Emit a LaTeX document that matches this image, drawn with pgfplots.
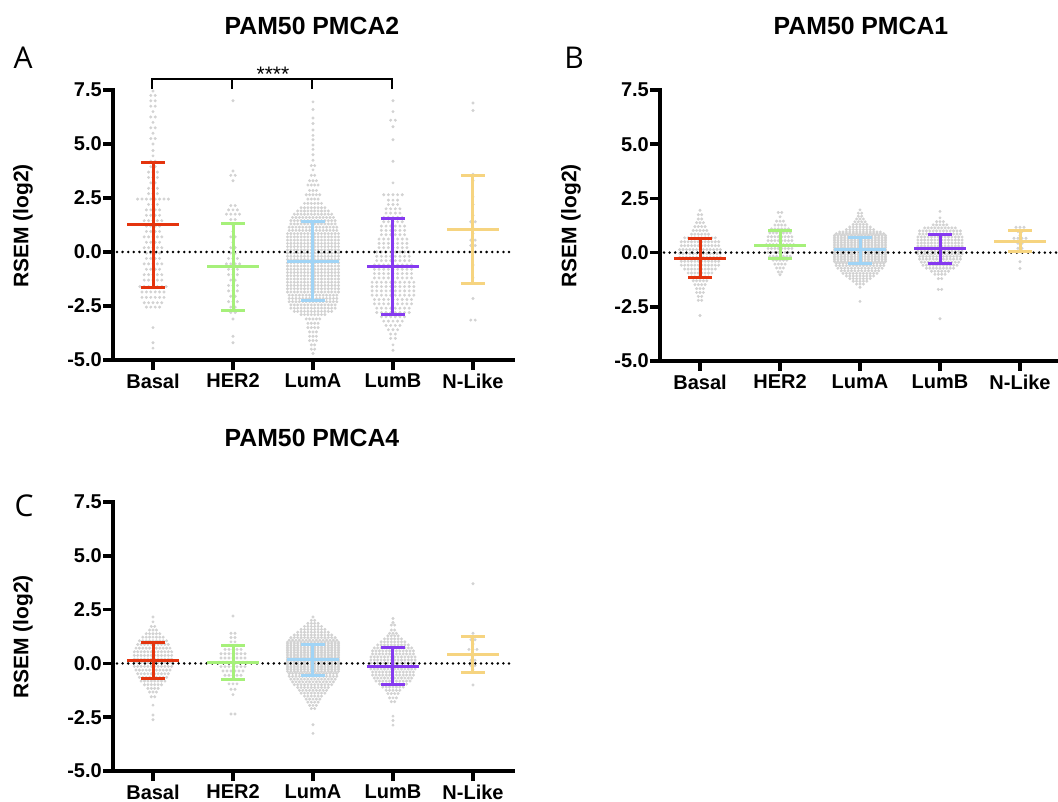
\documentclass[border=0pt]{standalone}
\usepackage{pgfplots}
\pgfplotsset{compat=1.18}
\usepackage{fontspec}
\setmainfont{Liberation Sans}
\newfontfamily\letterfont{Open Sans}
\definecolor{cBasal}{RGB}{228,52,14}
\definecolor{cHER}{RGB}{166,240,122}
\definecolor{cLumA}{RGB}{160,212,246}
\definecolor{cLumB}{RGB}{134,58,240}
\definecolor{cNL}{RGB}{246,212,128}
\definecolor{dotgrey}{RGB}{210,210,210}

\pgfplotsset{
  swarmdot/.style={only marks, mark=*, mark size=1.3pt, color=dotgrey},
  panel/.style={
    scale only axis, width=400pt, height=270pt,
    xmin=-0.5, xmax=4.5, ymin=-5, ymax=7.5,
    axis x line*=bottom, axis y line*=left,
    axis line style={-, line width=3.5pt, line cap=rect},
    xtick={0,1,2,3,4}, xticklabels={Basal,HER2,LumA,LumB,N-Like},
    ytick={-5,-2.5,0,2.5,5,7.5}, yticklabels={-5.0,-2.5,0.0,2.5,5.0,7.5},
    tick align=outside, major tick length=10pt,
    every tick/.style={black, line width=3.5pt},
    tick label style={font=\fontsize{20}{20}\selectfont\bfseries},
    yticklabel style={inner xsep=1pt},
    clip=false, clip marker paths=true,
  }
}

% beeswarm rows: y/n  (n dots placed side by side at value y)
\newcommand\swarm[3][0.0425]{%
  \gdef\swarmlist{}%
  \foreach \yy/\nn in {#3}{%
    \foreach \ii in {1,...,\nn}{%
      \pgfmathsetmacro\xx{#2+(\ii-(\nn+1)/2)*#1}%
      \xdef\swarmlist{\swarmlist(\xx,\yy)}%
    }%
  }%
  \edef\tmp{\noexpand\addplot[swarmdot] coordinates {\swarmlist};}%
  \tmp
}
% mean and SD: x, mean, low, high, colour
\newcommand\ebar[5]{%
  \pgfmathsetmacro\xa{#1-0.32}\pgfmathsetmacro\xb{#1+0.32}%
  \pgfmathsetmacro\xc{#1-0.15}\pgfmathsetmacro\xd{#1+0.15}%
  \edef\tmp{%
    \noexpand\addplot[#5,line width=3pt,mark=none] coordinates {(#1,#3) (#1,#4)};
    \noexpand\addplot[#5,line width=3pt,mark=none] coordinates {(\xa,#2) (\xb,#2)};
    \noexpand\addplot[#5,line width=3pt,mark=none] coordinates {(\xc,#3) (\xd,#3)};
    \noexpand\addplot[#5,line width=3pt,mark=none] coordinates {(\xc,#4) (\xd,#4)};
  }%
  \tmp
}
\newcommand\zeroline{\addplot[black, mark=none, line width=2.8pt, line cap=round, dash pattern=on 0pt off 5.6pt] coordinates {(-0.45,0) (4.5,0)};}

\begin{document}
\begin{tikzpicture}[x=1pt,y=1pt]
\useasboundingbox (0,0) rectangle (1058,-802);

% ---------------- Panel A ----------------
\begin{axis}[panel, at={(113pt,-360pt)}, anchor=south west]
\swarm[0.055]{0}{7.45/1,7.25/2,7.0/2,6.75/2,6.5/1,6.25/2,6.0/1,5.75/2,5.5/1,5.25/2,5.0/1,4.7/1,4.45/1,4.2/2,3.95/2,3.7/3,3.45/3,3.2/2,2.95/3,2.7/3,2.45/8,2.2/3,1.95/4,1.7/4,1.45/5,1.2/4,0.95/4,0.7/5,0.45/4,0.2/5,-0.05/4,-0.3/4,-0.55/5,-0.8/4,-1.05/5,-1.3/5,-1.6/7,-1.85/6,-2.1/6,-2.35/5,-2.55/4,-3.5/1,-4.2/1,-4.45/1}
\swarm[0.055]{1}{7.0/1,3.75/1,3.55/2,3.3/1,2.15/2,1.95/3,1.75/4,1.5/2,1.25/1,0.95/1,0.7/2,0.45/1,0.2/2,-0.05/2,-0.3/3,-0.55/4,-0.8/3,-1.05/3,-1.3/2,-1.55/3,-1.8/3,-2.05/2,-2.3/3,-2.55/2,-2.8/2,-3.1/1,-3.9/1,-4.2/1}
\swarm{2}{6.95/1,6.6/1,6.2/1,5.95/1,5.65/1,5.4/1,5.2/1,4.95/1,4.75/1,4.5/1,4.25/1,4.0/2,3.8/1,3.55/2,3.3/3,3.1/4,2.85/3,2.65/5,2.45/4,2.25/6,2.05/8,1.9/10,1.75/12,1.6/13,1.45/14,1.3/14,1.15/15,1.0/15,0.85/16,0.7/16,0.55/16,0.4/16,0.25/16,0.1/16,-0.05/16,-0.2/16,-0.35/16,-0.5/16,-0.65/16,-0.8/16,-0.95/16,-1.1/16,-1.25/16,-1.4/16,-1.55/16,-1.7/16,-1.85/16,-2.0/15,-2.15/15,-2.3/15,-2.45/14,-2.6/14,-2.75/12,-2.9/8,-3.1/5,-3.3/4,-3.5/4,-3.7/3,-3.9/3,-4.1/3,-4.3/2,-4.5/2,-4.7/1}
\swarm[0.058]{3}{7.0/1,6.5/1,6.1/2,5.8/1,5.2/1,4.2/1,3.2/1,2.65/5,2.4/3,2.2/3,2.0/4,1.8/4,1.6/5,1.4/5,1.2/6,1.0/6,0.8/6,0.6/7,0.4/7,0.2/7,0.0/8,-0.2/8,-0.4/8,-0.6/9,-0.8/9,-1.0/9,-1.2/9,-1.4/10,-1.6/10,-1.8/10,-2.0/10,-2.2/9,-2.4/9,-2.6/8,-2.8/8,-3.0/6,-3.2/5,-3.4/4,-3.6/3,-3.8/2,-4.0/2,-4.3/1,-4.55/1}
\swarm[0.055]{4}{6.9/1,6.55/1,3.6/1,3.3/1,2.55/1,2.2/1,1.7/1,1.4/2,1.1/1,0.85/1,0.55/2,0.3/2,0.0/1,-0.6/1,-1.2/1,-2.15/1,-3.15/2}
\zeroline
\ebar{0}{1.25}{-1.65}{4.15}{cBasal}
\ebar{1}{-0.68}{-2.7}{1.34}{cHER}
\ebar{2}{-0.42}{-2.24}{1.4}{cLumA}
\ebar{3}{-0.65}{-2.88}{1.56}{cLumB}
\ebar{4}{1.02}{-1.48}{3.52}{cNL}
\end{axis}

% ---------------- Panel B ----------------
\begin{axis}[panel, at={(660pt,-361pt)}, anchor=south west, height=271pt]
\swarm{0}{1.95/1,1.75/2,1.55/2,1.38/3,1.2/4,1.02/5,0.85/6,0.68/10,0.5/12,0.32/12,0.14/13,-0.04/13,-0.22/13,-0.4/12,-0.58/12,-0.76/10,-0.94/8,-1.12/6,-1.3/5,-1.48/4,-1.66/3,-1.84/3,-2.02/2,-2.2/2,-2.9/1}
\swarm{1}{1.85/2,1.65/1,1.45/3,1.27/4,1.09/6,0.91/7,0.73/8,0.55/8,0.37/9,0.19/8,0.01/8,-0.17/7,-0.35/5,-0.53/4,-0.71/3,-0.89/2,-1.02/1}
\swarm{2}{1.97/1,1.82/2,1.68/2,1.55/3,1.42/4,1.3/5,1.18/7,1.06/9,0.95/13,0.87/15,0.79/16,0.71/16,0.63/16,0.55/16,0.47/16,0.39/16,0.31/16,0.23/16,0.15/16,0.07/16,-0.01/16,-0.09/16,-0.17/16,-0.25/16,-0.33/16,-0.41/16,-0.49/15,-0.6/15,-0.72/14,-0.84/12,-0.96/11,-1.08/9,-1.2/7,-1.32/5,-1.45/3,-1.6/1,-2.25/1}
\swarm{3}{1.9/1,1.6/1,1.43/3,1.28/5,1.14/10,1.0/13,0.86/13,0.72/14,0.58/14,0.44/14,0.3/14,0.18/14,0.06/14,-0.06/14,-0.18/13,-0.3/13,-0.44/12,-0.58/11,-0.72/9,-0.86/6,-1.0/4,-1.2/2,-1.7/2,-3.05/1}
\swarm[0.05]{4}{1.17/3,0.97/2,0.8/1,0.66/4,0.43/2,0.2/2,0.04/2,-0.42/1,-0.73/1}
\zeroline
\ebar{0}{-0.26}{-1.14}{0.66}{cBasal}
\ebar{1}{0.35}{-0.28}{1.01}{cHER}
\ebar{2}{0.15}{-0.48}{0.71}{cLumA}
\ebar{3}{0.17}{-0.51}{0.83}{cLumB}
\ebar{4}{0.52}{0.03}{1.01}{cNL}
\end{axis}

% ---------------- Panel C ----------------
\begin{axis}[panel, at={(113pt,-771pt)}, anchor=south west, height=269pt]
\swarm{0}{2.16/1,1.93/1,1.72/2,1.55/3,1.38/5,1.22/7,1.05/9,0.88/10,0.71/11,0.54/12,0.37/12,0.2/12,0.03/12,-0.14/12,-0.31/11,-0.48/10,-0.65/9,-0.82/8,-0.99/6,-1.16/4,-1.33/3,-1.55/2,-1.94/1,-2.4/1,-2.62/1}
\swarm[0.05]{1}{2.2/1,1.4/2,1.2/2,1.0/2,0.85/3,0.65/5,0.45/7,0.25/7,0.05/8,-0.15/7,-0.35/6,-0.55/5,-0.75/4,-0.95/3,-1.2/2,-1.45/1,-2.35/2}
\swarm{2}{2.16/1,2.0/2,1.86/4,1.72/6,1.58/8,1.45/10,1.32/12,1.2/14,1.08/15,0.99/16,0.91/16,0.83/16,0.75/16,0.67/16,0.59/16,0.51/16,0.43/16,0.35/16,0.27/16,0.19/16,0.11/16,0.03/16,-0.05/16,-0.13/16,-0.21/16,-0.29/16,-0.37/16,-0.47/15,-0.6/15,-0.73/14,-0.86/13,-0.99/12,-1.12/10,-1.25/9,-1.38/8,-1.52/6,-1.66/5,-1.8/4,-1.95/3,-2.1/2,-2.85/1,-3.25/1}
\swarm{3}{2.09/1,1.9/1,1.78/2,1.55/2,1.4/3,1.28/4,1.14/6,1.0/8,0.86/10,0.72/12,0.58/13,0.44/13,0.3/14,0.16/14,0.02/14,-0.12/14,-0.26/14,-0.4/13,-0.54/13,-0.68/12,-0.82/11,-0.96/9,-1.1/7,-1.25/5,-1.4/4,-1.6/3,-1.78/2,-2.45/1,-2.65/1,-2.87/1}
\swarm[0.05]{4}{3.7/1,1.4/1,1.1/2,0.9/1,0.65/3,0.4/2,0.15/2,-0.1/2,-0.3/1,-1.0/1}
\zeroline
\ebar{0}{0.14}{-0.71}{0.99}{cBasal}
\ebar{1}{0.04}{-0.76}{0.82}{cHER}
\ebar{2}{0.17}{-0.56}{0.88}{cLumA}
\ebar{3}{-0.13}{-0.96}{0.75}{cLumB}
\ebar{4}{0.41}{-0.4}{1.25}{cNL}
\end{axis}

% titles
\node[anchor=base, font=\fontsize{24.8}{25}\selectfont\bfseries] at (312,-35) {PAM50 PMCA2};
\node[anchor=base, font=\fontsize{24.8}{25}\selectfont\bfseries] at (861,-35) {PAM50 PMCA1};
\node[anchor=base, font=\fontsize{24.8}{25}\selectfont\bfseries] at (312,-446.7) {PAM50 PMCA4};
% panel letters
\node[anchor=base, font=\letterfont\fontsize{30}{30}\selectfont] at (23,-68.3) {A};
\node[anchor=base, font=\letterfont\fontsize{30}{30}\selectfont] at (574,-68.3) {B};
\node[anchor=base, font=\letterfont\fontsize{30}{30}\selectfont] at (24,-516.7) {C};
% y labels
\node[rotate=90, font=\fontsize{21}{21}\selectfont\bfseries] at (23,-226) {RSEM (log2)};
\node[rotate=90, font=\fontsize{21}{21}\selectfont\bfseries] at (571,-226) {RSEM (log2)};
\node[rotate=90, font=\fontsize{21}{21}\selectfont\bfseries] at (23,-637) {RSEM (log2)};
% significance bracket
\draw[line width=2pt] (152,-89) -- (152,-79) -- (392,-79) -- (392,-89);
\draw[line width=2pt] (232,-79) -- (232,-89);
\draw[line width=2pt] (312,-79) -- (312,-89);
\node[anchor=base, font=\fontsize{21}{21}\selectfont] at (273,-82) {****};
\end{tikzpicture}
\end{document}
